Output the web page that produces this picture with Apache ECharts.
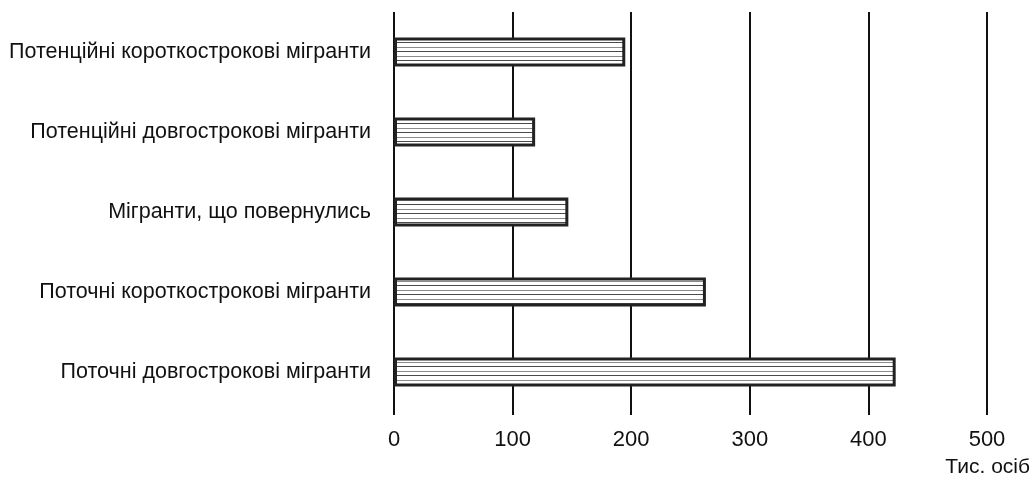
<!DOCTYPE html>
<html>
<head>
<meta charset="utf-8">
<script src="https://cdn.jsdelivr.net/npm/echarts@6/dist/echarts.min.js"></script>
<style>
html,body{margin:0;padding:0;background:#fff;}
#chart{width:1033px;height:481px;}
</style>
</head>
<body>
<div id="chart"></div>
<script>
const categories = [
  'Поточні довгострокові мігранти',
  'Поточні короткострокові мігранти',
  'Мігранти, що повернулись',
  'Потенційні довгострокові мігранти',
  'Потенційні короткострокові мігранти'
];
const values = [423, 263, 147, 119, 195];
const axisMax = 500;
const axisInterval = 100;
const unitLabel = 'Тис. осіб';

const FONT = '"Liberation Sans", Arial, sans-serif';

const pc = document.createElement('canvas');
pc.width = 4; pc.height = 9;
const ctx = pc.getContext('2d');
ctx.fillStyle = '#ffffff'; ctx.fillRect(0,0,4,9);
ctx.fillStyle = '#8a8a8a'; ctx.fillRect(0,2,4,1);
ctx.fillStyle = '#4a4a4a'; ctx.fillRect(0,6,4,1);

const chart = echarts.init(document.getElementById('chart'), null, {renderer:'canvas'});
chart.setOption({
  animation:false,
  backgroundColor:'#fff',
  textStyle:{fontFamily:FONT},
  grid:{left:394, right:46, top:12, bottom:69, containLabel:false, outerBoundsMode:'none'},
  xAxis:{
    type:'value', min:0, max:axisMax, interval:axisInterval,
    axisLine:{show:false},
    axisTick:{show:true, length:3, lineStyle:{color:'#111', width:2}},
    splitLine:{show:true, lineStyle:{color:'#111', width:2}},
    axisLabel:{color:'#111', fontSize:22, margin:17, fontFamily:FONT}
  },
  yAxis:{
    type:'category', data:categories,
    axisLine:{show:false}, axisTick:{show:false},
    axisLabel:{color:'#111', fontSize:21.5, margin:23, fontFamily:FONT}
  },
  graphic:[{
    type:'text', right:3, top:457,
    style:{text:unitLabel, fill:'#111', font:'21px ' + FONT}
  }],
  series:[{
    type:'bar', data:values, barWidth:29,
    itemStyle:{color:{image:pc, repeat:'repeat'}, borderColor:'#222', borderWidth:3}
  }]
});
</script>
</body>
</html>
